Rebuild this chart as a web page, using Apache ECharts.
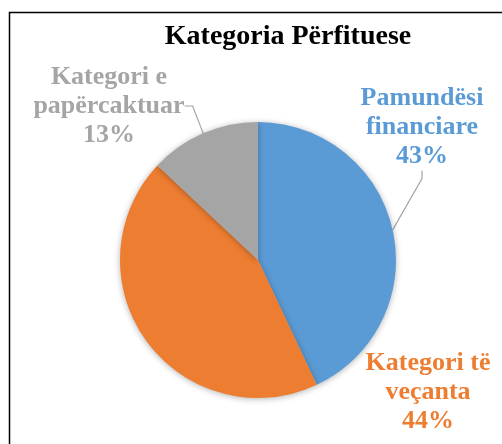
<!DOCTYPE html>
<html><head><meta charset="utf-8">
<script src="https://cdn.jsdelivr.net/npm/echarts@6/dist/echarts.min.js"></script>
<style>html,body{margin:0;padding:0;background:#fff}#c{width:502px;height:444px}</style>
</head><body><div id="c"></div>
<script>
const categories = ['Pamundësi financiare', 'Kategori të veçanta', 'Kategori e papërcaktuar'];
const labelTexts = ['Pamundësi\nfinanciare', 'Kategori të\nveçanta', 'Kategori e\npapërcaktuar'];
const values = [43, 44, 13];
const colors = ['#5B9BD5', '#ED7D31', '#A5A5A5'];
const showLines = [true, false, true];

const chart = echarts.init(document.getElementById('c'), null, {renderer: 'canvas'});
const labelPos = [
  {x: 422, y: 127, align: 'center', verticalAlign: 'middle'},
  {x: 428, y: 392, align: 'center', verticalAlign: 'middle'},
  {x: 109, y: 106, align: 'center', verticalAlign: 'middle'}
];
chart.setOption({
  backgroundColor: '#fff',
  title: {
    text: 'Kategoria Përfituese',
    left: 283, top: 18, textAlign: 'center',
    textStyle: {fontFamily: 'Liberation Serif', fontWeight: 'bold', fontSize: 28, color: '#000'}
  },
  graphic: [{
    type: 'rect', shape: {x: 9.5, y: 12.5, width: 500, height: 440},
    style: {fill: 'none', stroke: '#000', lineWidth: 1.5}, silent: true
  }],
  series: [{
    type: 'pie',
    center: [258, 260],
    radius: 138,
    startAngle: 90,
    clockwise: true,
    animation: false,
    itemStyle: {shadowBlur: 6, shadowColor: 'rgba(0,0,0,0.3)', shadowOffsetY: 1},
    data: values.map((v, i) => ({
      name: categories[i], value: v,
      itemStyle: {color: colors[i]},
      label: {color: colors[i]},
      labelLine: {show: showLines[i]}
    })),
    label: {
      show: true,
      position: 'outside',
      overflow: 'none',
      formatter: (p) => labelTexts[p.dataIndex] + '\n' + p.value + '%',
      fontFamily: 'Liberation Serif', fontWeight: 'bold', fontSize: 26, lineHeight: 29,
      align: 'center'
    },
    labelLine: {show: true, length: 10, length2: 8, lineStyle: {color: '#A5A5A5', width: 1.2}},
    labelLayout: (p) => labelPos[p.dataIndex]
  }]
});
</script></body></html>
